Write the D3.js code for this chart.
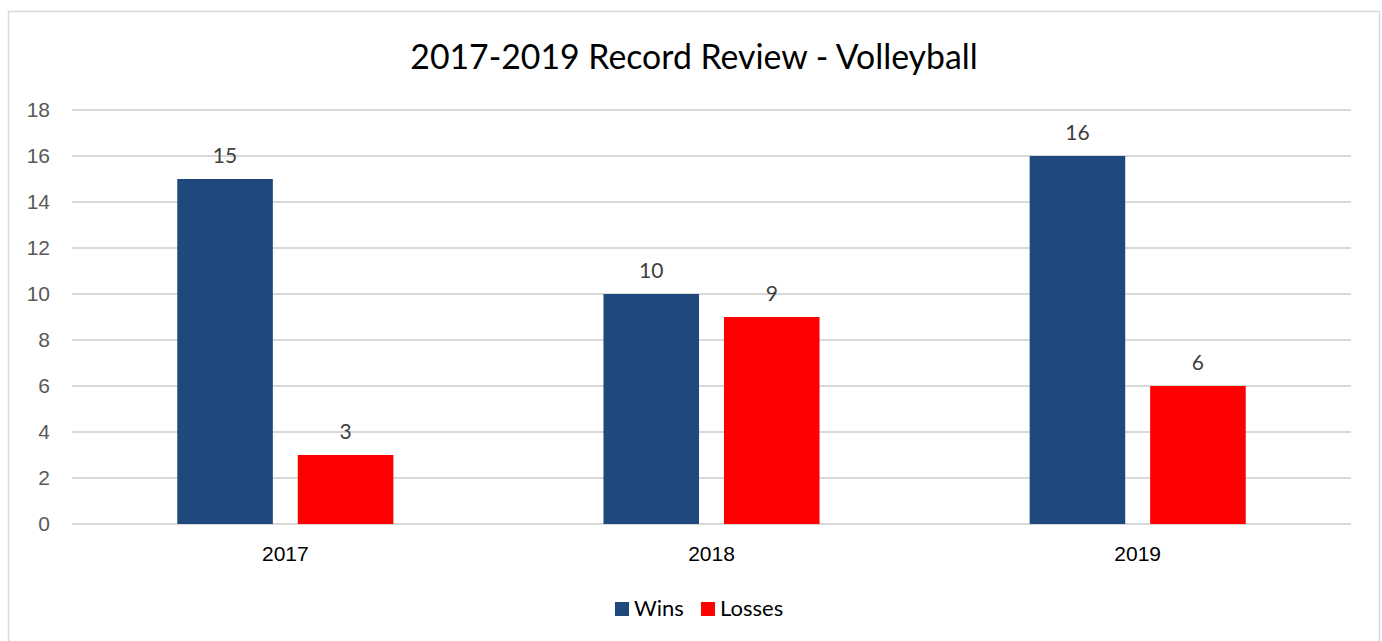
<!DOCTYPE html>
<html>
<head>
<meta charset="utf-8">
<script src="https://cdn.jsdelivr.net/npm/d3@7"></script>
<style>
  body { margin: 0; background: #fff; }
  svg { font-family: Lato, "Open Sans", sans-serif; }
  .grid line { stroke: #d9d9d9; stroke-width: 2; }
  .y.axis text { fill: #595959; font-size: 21px; }
  .x.axis text { fill: #000; font-size: 21px; }
</style>
</head>
<body>
<div class="bar-chart"></div>
<script>
// chart data
const years = ['2017', '2018', '2019'];
const wins = [15, 10, 16];
const losses = [3, 9, 6];
const seriesNames = ['Wins', 'Losses'];
const seriesColors = ['#1f497d', '#ff0000'];
const yTicks = [0, 2, 4, 6, 8, 10, 12, 14, 16, 18];

const W = 1382, H = 641;
const margin = { top: 110, right: 31, bottom: 117, left: 72 };
const width = W - margin.left - margin.right;
const height = H - margin.top - margin.bottom;

const svg = d3.select('.bar-chart').append('svg')
  .attr('width', W)
  .attr('height', H);

// outer frame
svg.append('rect')
  .attr('x', 8.5).attr('y', 11.5)
  .attr('width', 1371).attr('height', 640)
  .attr('fill', 'none')
  .attr('stroke', '#d9d9d9')
  .attr('stroke-width', 1.5);

svg.append('text')
  .attr('x', 694).attr('y', 69)
  .attr('text-anchor', 'middle')
  .style('font-size', '33.8px')
  .style('fill', '#000')
  .text('2017-2019 Record Review - Volleyball');

const g = svg.append('g')
  .attr('transform', `translate(${margin.left},${margin.top})`);

const x0 = d3.scaleBand().domain(years).range([0, width]).paddingInner(0.493).paddingOuter(0.247);
const x1 = d3.scaleBand().domain(seriesNames).range([0, x0.bandwidth()]).paddingInner(0.207);
const y = d3.scaleLinear().domain([0, 18]).range([height, 0]);

g.append('g')
  .attr('class', 'grid')
  .selectAll('line')
  .data(yTicks)
  .enter()
  .append('line')
  .attr('x1', 0)
  .attr('x2', width)
  .attr('y1', d => y(d))
  .attr('y2', d => y(d));

g.append('g')
  .attr('class', 'y axis')
  .call(d3.axisLeft(y).tickValues(yTicks).tickSize(0).tickPadding(22))
  .call(s => s.select('.domain').remove());

g.append('g')
  .attr('class', 'x axis')
  .attr('transform', `translate(0,${height})`)
  .call(d3.axisBottom(x0).tickSize(0).tickPadding(22))
  .call(s => s.select('.domain').remove());

const rows = years.map((yr, i) => ({ year: yr, values: [wins[i], losses[i]] }));

const groups = g.selectAll('.group')
  .data(rows)
  .enter()
  .append('g')
  .attr('transform', d => `translate(${x0(d.year)},0)`);

groups.selectAll('rect')
  .data(d => d.values.map((v, j) => ({ key: seriesNames[j], value: v, color: seriesColors[j] })))
  .enter()
  .append('rect')
  .attr('x', d => x1(d.key))
  .attr('y', d => y(d.value))
  .attr('width', x1.bandwidth())
  .attr('height', d => height - y(d.value))
  .attr('fill', d => d.color);

groups.selectAll('.label')
  .data(d => d.values.map((v, j) => ({ key: seriesNames[j], value: v })))
  .enter()
  .append('text')
  .attr('class', 'label')
  .attr('x', d => x1(d.key) + x1.bandwidth() / 2)
  .attr('y', d => y(d.value) - 16)
  .attr('text-anchor', 'middle')
  .style('font-size', '21px')
  .style('fill', '#404040')
  .text(d => d.value);

// legend
const legend = svg.append('g').attr('transform', 'translate(615,602)');
const legendX = [0, 86];
seriesNames.forEach((name, i) => {
  legend.append('rect')
    .attr('x', legendX[i]).attr('y', 0)
    .attr('width', 14).attr('height', 14)
    .attr('fill', seriesColors[i]);
  legend.append('text')
    .attr('x', legendX[i] + 19).attr('y', 14)
    .style('font-size', '22px')
    .style('fill', '#000')
    .text(name);
});
</script>
</body>
</html>
